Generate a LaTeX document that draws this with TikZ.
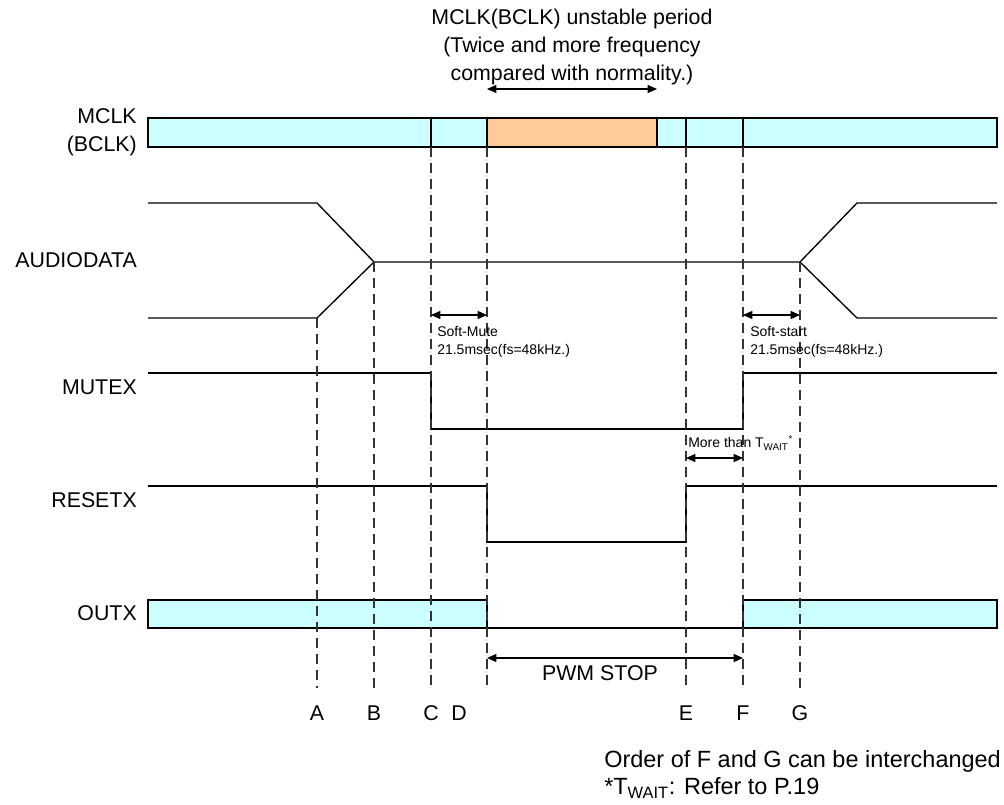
\documentclass[tikz,border=0pt]{standalone}
\usepackage{fontspec}
\setmainfont{Liberation Sans}
\usepackage{tikz}
\usetikzlibrary{arrows.meta, positioning}
\definecolor{clkcyan}{HTML}{CCFFFF}
\definecolor{clkorange}{HTML}{FFCC99}
\tikzset{
  sig/.style={line width=1pt, black},
  guide/.style={line width=0.9pt, black!80, dash pattern=on 7.5pt off 4.5pt},
  span/.style={line width=0.9pt, {Triangle[length=7pt,width=6pt]}-{Triangle[length=7pt,width=6pt]}},
  lbl/.style={font=\fontsize{16}{21}\selectfont, inner sep=0pt},
  note/.style={font=\fontsize{10.5}{13.5}\selectfont, inner sep=0pt, anchor=west, align=left},
  remark/.style={font=\fontsize{17.6}{20}\selectfont, inner sep=0pt, anchor=west, align=left},
}

\begin{document}
\begin{tikzpicture}[x=0.75pt, y=-0.75pt]
    \useasboundingbox (0,0) rectangle (1004,804);

    % MCLK (BCLK)
    \draw[sig, fill=clkcyan] (148,118) rectangle (487,147);
    \draw[sig, fill=clkorange] (487,118) rectangle (657,147);
    \draw[sig, fill=clkcyan] (657,118) rectangle (997,147);
    \draw[sig] (431,118) -- (431,147) (686,118) -- (686,147) (743,118) -- (743,147);
    \coordinate (unstable end) at (657,118);

    % AUDIODATA
    \draw[sig] (148,203) -- (317,203) -- (374,262) -- (800,262) -- (857,203) -- (997,203);
    \draw[sig] (148,318) -- (317,318) -- (374,262);
    \draw[sig] (800,262) -- (857,318) -- (997,318);

    % MUTEX, RESETX
    \draw[sig] (148,373) -- (431,373) -- (431,429) -- (743,429) -- (743,373) -- (997,373);
    \draw[sig] (148,486) -- (487,486) -- (487,542) -- (686,542) -- (686,486) -- (997,486);

    % OUTX
    \draw[sig, fill=clkcyan] (148,600) rectangle (487,628);
    \draw[sig] (487,628) -- (743,628);
    \draw[sig, fill=clkcyan] (743,600) rectangle (997,628);

    % timing guides
    \coordinate (A top) at (317,318);
    \coordinate (B top) at (374,262);
    \coordinate (C top) at (431,147);
    \coordinate (D top) at (487,147);
    \coordinate (E top) at (686,147);
    \coordinate (F top) at (743,147);
    \coordinate (G top) at (800,262);
    \foreach \p in {A,B,C,D,E,F,G}
      \draw[guide] (\p\space top) -- (\p\space top |- 0,688);

    % spans
    \draw[span] (D top |- 0,89) -- (unstable end |- 0,89);
    \draw[span] (C top |- 0,315) -- (D top |- 0,315);
    \draw[span] (F top |- 0,315) -- (G top |- 0,315);
    \draw[span] (E top |- 0,458) -- (F top |- 0,458);
    \draw[span] (D top |- 0,658) -- (F top |- 0,658);

    % signal names
    \node[lbl, align=center] (unstable) at (572,47) {MCLK(BCLK) unstable period\\(Twice and more frequency\\compared with normality.)};
    \node[lbl, anchor=east, align=right] (mclk) at (137,132) {MCLK\\(BCLK)};
    \node[lbl, anchor=east] (audiodata) at (137,260) {AUDIODATA};
    \node[lbl, anchor=east] (mutex) at (137,387) {MUTEX};
    \node[lbl, anchor=east] (resetx) at (137,500) {RESETX};
    \node[lbl, anchor=east] (outx) at (137,613) {OUTX};

    % notes
    \node[note] (softmute) at (437,342) {Soft-Mute\\21.5msec(fs=48kHz.)};
    \node[note] (softstart) at (750,342) {Soft-start\\21.5msec(fs=48kHz.)};
    \node[note] (twait) at (688,443) {More than T\textsubscript{WAIT}\textsuperscript{*}};
    \node[lbl] (pwmstop) at (600,673) {PWM STOP};

    % time points
    \node[lbl] (labA) at (317,713) {A};
    \node[lbl] (labB) at (374,713) {B};
    \node[lbl] (labC) at (431,713) {C};
    \node[lbl] (labD) at (459,713) {D};
    \node[lbl] (labE) at (686,713) {E};
    \node[lbl] (labF) at (743,713) {F};
    \node[lbl] (labG) at (800,713) {G};

    \node[remark] (order) at (604,774.5) {Order of F and G can be interchanged\\{*}T\textsubscript{WAIT}: Refer to P.19};
\end{tikzpicture}
\end{document}
